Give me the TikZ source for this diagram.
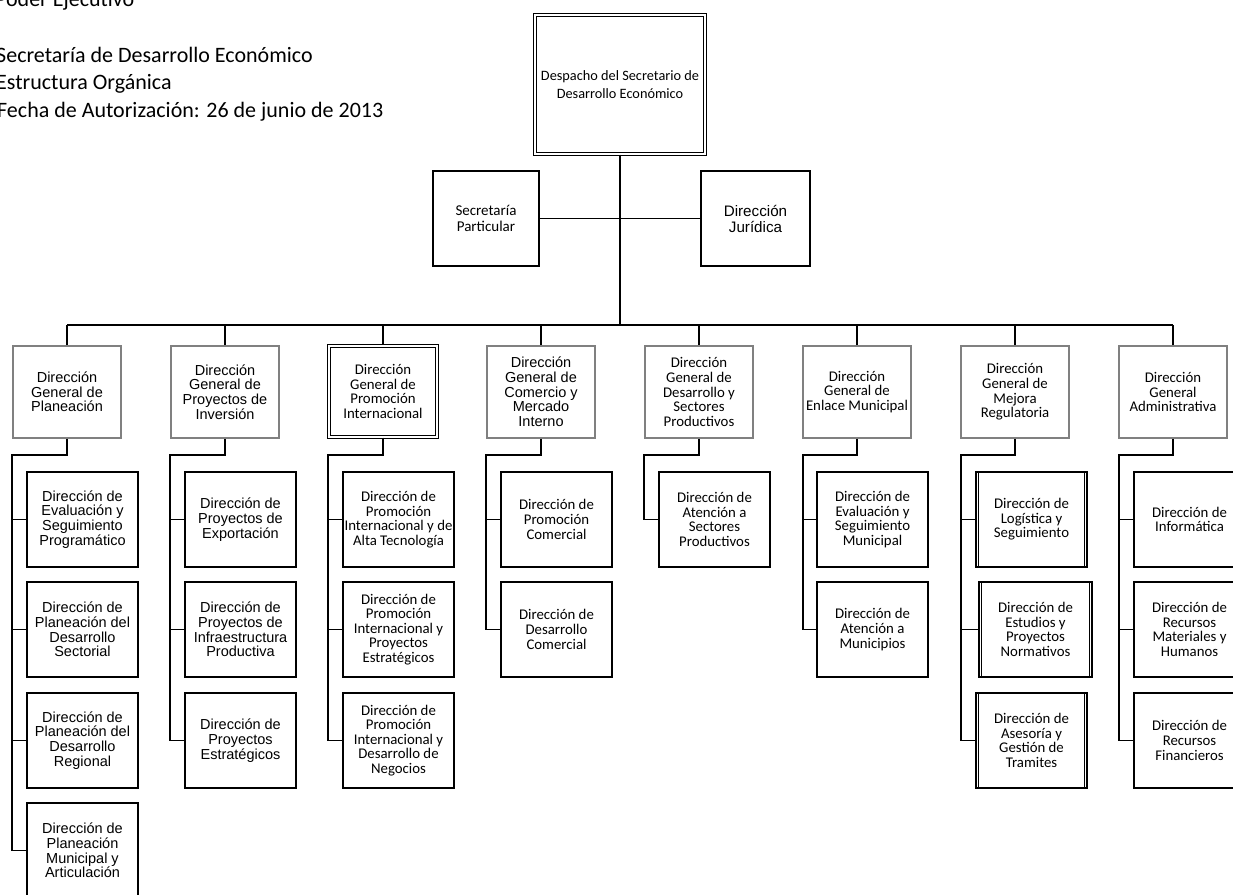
\documentclass[tikz,border=0pt]{standalone}
\usepackage{fontspec}
\setmainfont{Carlito}
\newfontfamily\arialf{Liberation Sans}
\newfontfamily\calf{Carlito}
\definecolor{gbord}{RGB}{128,128,128}
\tikzset{
  lvtwo/.style={draw=gbord, line width=1.5pt, minimum width=108pt, minimum height=92pt, inner sep=0pt, align=center},
  lvdbl/.style={draw=black, double, double distance=1.6pt, line width=1.1pt, minimum width=108pt, minimum height=91pt, inner sep=0pt, align=center},
  subbox/.style={draw=black, line width=1.5pt, minimum width=111pt, minimum height=95pt, inner sep=0pt, align=center},
  arT/.style={font=\arialf\fontsize{14.5}{14.7}\selectfont},
  calT/.style={font=\calf\fontsize{14.8}{14.6}\selectfont},
  conn/.style={line width=1.5pt},
  thinconn/.style={line width=1.2pt},
  hdr/.style={font=\calf\fontsize{22}{27}\selectfont, anchor=base west, inner sep=0pt},
}
\begin{document}
\begin{tikzpicture}[x=1pt,y=-1pt]
\useasboundingbox (0,0) rectangle (1233,894);
\clip (0,0) rectangle (1233,894);

% header
\node[hdr] (h0) at (-5,6) {Poder Ejecutivo};
\node[hdr] (h1) at (-4,62) {Secretaría de Desarrollo Económico};
\node[hdr] (h2) at (-4,89) {Estructura Orgánica};
\node[hdr] (h3) at (-3,117) {Fecha de Autorización: 26 de junio de 2013};

% top
\node[draw, double, double distance=1.8pt, line width=1.1pt, minimum width=170pt, minimum height=139pt, inner sep=0pt, align=center, font=\calf\fontsize{14.3}{18}\selectfont] (top) at (620,84.5) {Despacho del Secretario de\\Desarrollo Económico};
\node[draw, line width=1.2pt, minimum width=106pt, minimum height=95pt, inner sep=0pt, align=center, font=\calf\fontsize{15}{15.5}\selectfont] (sp) at (486,218.5) {Secretaría\\Particular};
\node[draw, line width=1.2pt, minimum width=109pt, minimum height=95pt, inner sep=0pt, align=center, font=\arialf\fontsize{15.2}{16}\selectfont] (dj) at (755.5,218.5) {Dirección\\Jurídica};

\coordinate (bus) at (620,325);
\draw[line width=1.2pt] (sp.east) -- (dj.west);
\draw[line width=2.4pt] (top.south) -- (bus);

% level two
\node[lvtwo, arT] (L1) at (67,392) {Dirección\\General de\\Planeación};
\node[lvtwo, arT] (L2) at (225,392) {Dirección\\General de\\Proyectos de\\Inversión};
\node[lvdbl, calT] (L3) at (383,391.5) {Dirección\\General de\\Promoción\\Internacional};
\node[lvtwo, arT] (L4) at (541,392) {Dirección\\General de\\Comercio y\\Mercado\\Interno};
\node[lvtwo, calT] (L5) at (699,392) {Dirección\\General de\\Desarrollo y\\Sectores\\Productivos};
\node[lvtwo, calT] (L6) at (857,392) {Dirección\\General de\\Enlace Municipal};
\node[lvtwo, calT] (L7) at (1015,392) {Dirección\\General de\\Mejora\\Regulatoria};
\node[lvtwo, calT] (L8) at (1173,392) {Dirección\\General\\Administrativa};

\coordinate (busL) at (67,325);
\coordinate (busR) at (1173,325);
\draw[line width=1.8pt] (busL) -- (busR);
\foreach \n in {1,...,8} {
  \draw[thinconn] (L\n.north |- bus) -- (L\n.north);
}

% sub boxes column 1
\node[subbox, arT] (S11) at (82.5,519.5) {Dirección de\\Evaluación y\\Seguimiento\\Programático};
\node[subbox, arT] (S12) at (82.5,629.5) {Dirección de\\Planeación del\\Desarrollo\\Sectorial};
\node[subbox, arT] (S13) at (82.5,740.5) {Dirección de\\Planeación del\\Desarrollo\\Regional};
\node[subbox, arT] (S14) at (82.5,850.5) {Dirección de\\Planeación\\Municipal y\\Articulación};
% column 2
\node[subbox, arT] (S21) at (240.5,519.5) {Dirección de\\Proyectos de\\Exportación};
\node[subbox, arT] (S22) at (240.5,629.5) {Dirección de\\Proyectos de\\Infraestructura\\Productiva};
\node[subbox, arT] (S23) at (240.5,740.5) {Dirección de\\Proyectos\\Estratégicos};
% column 3
\node[subbox, calT] (S31) at (398.5,519.5) {Dirección de\\Promoción\\Internacional y de\\Alta Tecnología};
\node[subbox, calT] (S32) at (398.5,629.5) {Dirección de\\Promoción\\Internacional y\\Proyectos\\Estratégicos};
\node[subbox, calT] (S33) at (398.5,740.5) {Dirección de\\Promoción\\Internacional y\\Desarrollo de\\Negocios};
% column 4
\node[subbox, calT] (S41) at (556.5,519.5) {Dirección de\\Promoción\\Comercial};
\node[subbox, calT] (S42) at (556.5,629.5) {Dirección de\\Desarrollo\\Comercial};
% column 5
\node[subbox, calT] (S51) at (714.5,519.5) {Dirección de\\Atención a\\Sectores\\Productivos};
% column 6
\node[subbox, calT] (S61) at (872.5,519.5) {Dirección de\\Evaluación y\\Seguimiento\\Municipal};
\node[subbox, calT] (S62) at (872.5,629.5) {Dirección de\\Atención a\\Municipios};
% column 7
\node[subbox, calT] (S71) at (1031.5,519.5) {Dirección de\\Logística y\\Seguimiento};
\node[subbox, calT, minimum width=113pt] (S72) at (1035.5,629.5) {Dirección de\\Estudios y\\Proyectos\\Normativos};
\node[subbox, calT] (S73) at (1031.5,740.5) {Dirección de\\Asesoría y\\Gestión de\\Tramites};
% column 8
\node[subbox, calT] (S81) at (1189.5,519.5) {Dirección de\\Informática};
\node[subbox, calT] (S82) at (1189.5,629.5) {Dirección de\\Recursos\\Materiales y\\Humanos};
\node[subbox, calT] (S83) at (1189.5,740.5) {Dirección de\\Recursos\\Financieros};

% extra inner edges of the Mejora Regulatoria boxes
\foreach \s in {S71,S72,S73} {
  \draw[line width=0.9pt] ([xshift=3pt,yshift=-1pt]\s.north west) -- ([xshift=3pt,yshift=1pt]\s.south west);
  \draw[line width=0.9pt] ([xshift=-3pt,yshift=-1pt]\s.north east) -- ([xshift=-3pt,yshift=1pt]\s.south east);
}

% branch coordinates
\coordinate (v1) at (12,455);
\coordinate (v2) at (170,455);
\coordinate (v3) at (328,455);
\coordinate (v4) at (486,455);
\coordinate (v5) at (644,455);
\coordinate (v6) at (803,455);
\coordinate (v7) at (961,455);
\coordinate (v8) at (1119,455);

\draw[conn] (L1.south) |- (v1) |- (S14.west);
\draw[conn] (L2.south) |- (v2) |- (S23.west);
\draw[conn] (L3.south) |- (v3) |- (S33.west);
\draw[conn] (L4.south) |- (v4) |- (S42.west);
\draw[conn] (L5.south) |- (v5) |- (S51.west);
\draw[conn] (L6.south) |- (v6) |- (S62.west);
\draw[conn] (L7.south) |- (v7) |- (S73.west);
\draw[conn] (L8.south) |- (v8) |- (S83.west);

\foreach \s/\v in {S11/v1,S12/v1,S13/v1,S21/v2,S22/v2,S31/v3,S32/v3,S41/v4,S61/v6,S71/v7,S72/v7,S81/v8,S82/v8} {
  \draw[thinconn] (\s.west) -- (\s.west -| \v);
}
\end{tikzpicture}
\end{document}
